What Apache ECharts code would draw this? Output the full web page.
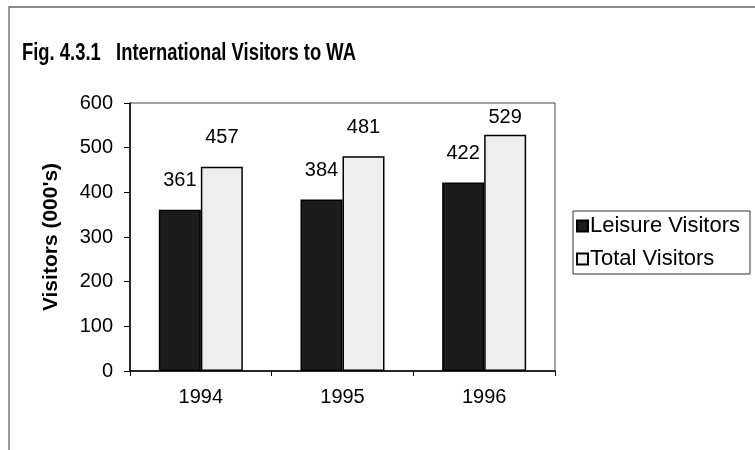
<!DOCTYPE html>
<html>
<head>
<meta charset="utf-8">
<script src="https://cdn.jsdelivr.net/npm/echarts@6/dist/echarts.min.js"></script>
<style>
  html, body { margin: 0; padding: 0; background: #fff; }
  #container { width: 755px; height: 450px; }
</style>
</head>
<body>
<div id="container"></div>
<script>
// chart values
var years = ['1994', '1995', '1996'];
var leisure = [361, 384, 422];
var total = [457, 481, 529];
var seriesNames = ['Leisure Visitors', 'Total Visitors'];
var titleText = 'Fig. 4.3.1   International Visitors to WA';

var dom = document.getElementById("container");
var myChart = echarts.init(dom);
var option = null;

var txt = 'Liberation Sans, Arial, sans-serif';

// the 529 label sits closer to its bar in the original
var totalData = total.map(function (v, i) {
  if (i === total.length - 1) {
    return { value: v, label: { distance: 7 } };
  }
  return v;
});

option = {
  animation: false,
  backgroundColor: '#fff',
  textStyle: { fontFamily: txt, color: '#000' },
  graphic: [
    // outer frame of the scanned figure
    {
      type: 'polyline',
      shape: { points: [[9, 460], [9, 7], [760, 7]] },
      style: { stroke: '#666', lineWidth: 1.3, fill: null }
    },
    // title is narrow bold in the original, squeeze it a bit
    {
      type: 'text',
      x: 22,
      y: 42,
      scaleX: 0.8,
      originX: 0,
      style: {
        text: titleText,
        font: 'bold 23px "Liberation Sans", Arial, sans-serif',
        fill: '#000'
      }
    }
  ],
  legend: {
    orient: 'vertical',
    left: 573,
    top: 211,
    padding: [4, 10, 4, 3],
    itemGap: 11,
    itemWidth: 11,
    itemHeight: 11,
    icon: 'rect',
    borderColor: '#333',
    borderWidth: 1,
    data: seriesNames,
    textStyle: { fontFamily: txt, fontSize: 22, color: '#000', padding: [0, 0, 0, -3] }
  },
  grid: {
    left: 130,
    right: 200,
    top: 103,
    bottom: 79,
    show: true,
    borderColor: '#444',
    borderWidth: 1
  },
  xAxis: {
    type: 'category',
    data: years,
    axisLine: { lineStyle: { color: '#000', width: 1.5 } },
    axisTick: { show: true, length: 5, lineStyle: { color: '#000' } },
    axisLabel: { fontSize: 20, color: '#000', margin: 16 }
  },
  yAxis: {
    type: 'value',
    min: 0,
    max: 600,
    interval: 100,
    name: "Visitors (000's)",
    nameLocation: 'middle',
    nameGap: 68,
    nameTextStyle: { fontSize: 21, fontWeight: 'bold', color: '#000' },
    axisLine: { show: true, lineStyle: { color: '#000', width: 1.5 } },
    axisTick: { show: true, length: 6, lineStyle: { color: '#000' } },
    axisLabel: { fontSize: 20, color: '#000', margin: 17 },
    splitLine: { show: false }
  },
  series: [
    {
      name: seriesNames[0],
      type: 'bar',
      data: leisure,
      barWidth: 42,
      barGap: '0%',
      itemStyle: { color: '#1c1c1c', borderColor: '#000', borderWidth: 1.5 },
      label: { show: true, position: 'top', distance: 19, fontSize: 20, color: '#000' }
    },
    {
      name: seriesNames[1],
      type: 'bar',
      data: totalData,
      barWidth: 42,
      barGap: '0%',
      itemStyle: { color: '#eeeeee', borderColor: '#000', borderWidth: 1.5 },
      label: { show: true, position: 'top', distance: 19, fontSize: 20, color: '#000' }
    }
  ]
};

if (option && typeof option === "object") {
  myChart.setOption(option, true);
}
</script>
</body>
</html>
